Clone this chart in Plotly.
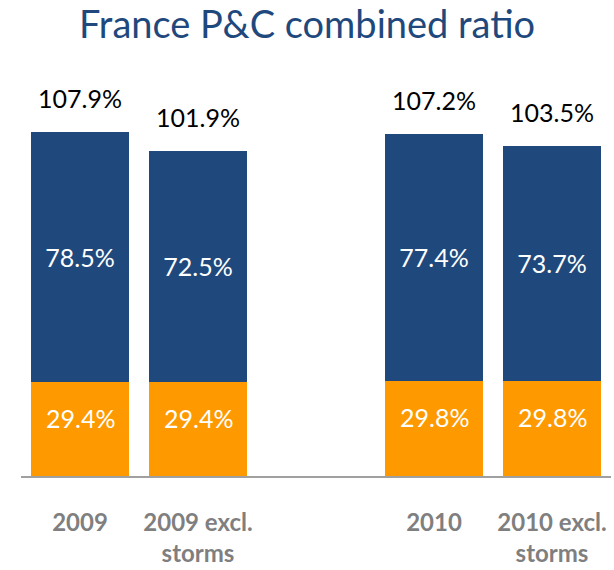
import plotly.graph_objects as go

categories = ["2009", "2009 excl.<br>storms", " ", "2010", "2010 excl.<br>storms"]
expense_ratio = [29.4, 29.4, None, 29.8, 29.8]
loss_ratio = [78.5, 72.5, None, 77.4, 73.7]
combined_ratio = [107.9, 101.9, None, 107.2, 103.5]
title_text = "France P&C combined ratio"

BLUE = "#1F497D"
ORANGE = "#FF9900"
FONT = "Lato"

W, H = 614, 570

def fmt(v):
    return "" if v is None else f"{v:.1f}%"

fig = go.Figure()
fig.add_trace(go.Bar(
    x=categories, y=expense_ratio, marker=dict(color=ORANGE, line=dict(width=0)),
    showlegend=False, hoverinfo="skip",
))
fig.add_trace(go.Bar(
    x=categories, y=loss_ratio, marker=dict(color=BLUE, line=dict(width=0)),
    text=[fmt(v) for v in loss_ratio], textposition="inside", insidetextanchor="middle",
    textangle=0, constraintext="none",
    textfont=dict(family=FONT, size=25, color="white"), showlegend=False,
    hoverinfo="skip",
))

for i, (e, t) in enumerate(zip(expense_ratio, combined_ratio)):
    if t is None:
        continue
    fig.add_annotation(x=i, y=t, text=fmt(t), showarrow=False, yanchor="middle",
                       yshift=34, font=dict(family=FONT, size=25, color="black"))
    fig.add_annotation(x=i, y=e / 2, text=fmt(e), showarrow=False, yanchor="middle",
                       yshift=11, font=dict(family=FONT, size=25, color="white"))

# title as a paper annotation
fig.add_annotation(x=(W / 2 - 21) / (W - 24), xref="paper", y=1, yref="paper",
                   yanchor="middle", yshift=61 - 23, text=title_text, showarrow=False,
                   borderpad=0, font=dict(family=FONT, size=38, color=BLUE))

fig.update_layout(
    barmode="stack",
    bargap=0.17,
    width=W, height=H,
    margin=dict(l=21, r=3, t=61, b=84),
    paper_bgcolor="white", plot_bgcolor="white",
    xaxis=dict(type="category", categoryorder="array", categoryarray=categories,
               range=[-0.5, 4.5], showline=True, linecolor="#A0A0A0", linewidth=2,
               ticks="", showgrid=False, zeroline=False,
               tickfont=dict(family=FONT, size=24, color="#7F7F7F", weight="bold"),
               ticklabelstandoff=24),
    yaxis=dict(range=[0, 130], visible=False, showgrid=False, zeroline=False),
)

fig.write_html("out.html", post_script="document.body.style.margin='0';",
               config={"displayModeBar": False})
